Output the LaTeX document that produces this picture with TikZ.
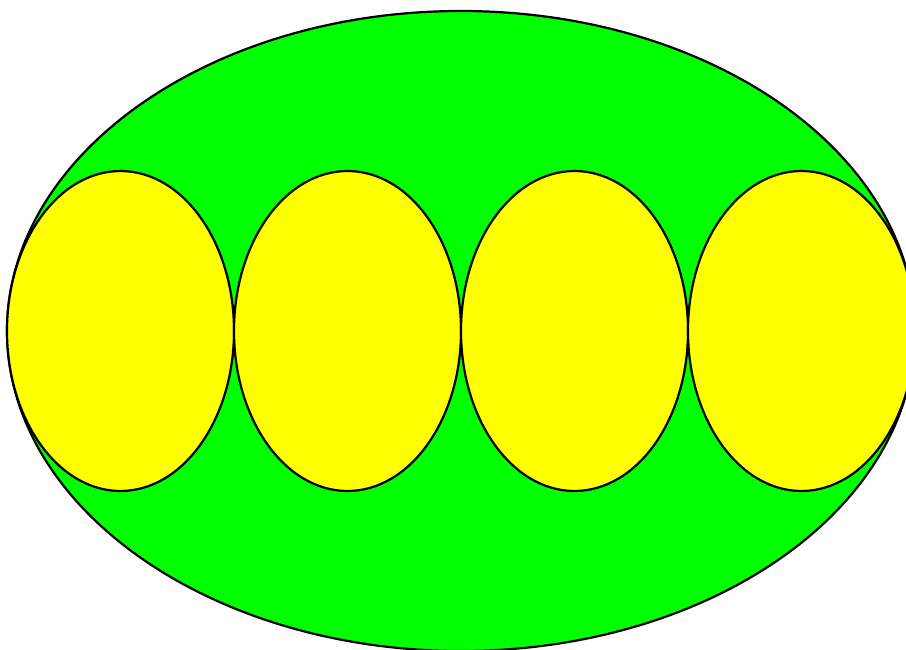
\documentclass[tikz,border=0pt]{standalone}
\definecolor{bigG}{RGB}{0,255,0}
\definecolor{smallY}{RGB}{255,255,0}
\begin{document}
\begin{tikzpicture}[x=1pt,y=-1pt,
  outline/.style={draw=black,line width=2.2pt},
  bigshape/.style={outline,fill=bigG},
  smallshape/.style={outline,fill=smallY}]
\useasboundingbox (0,0) rectangle (906,650);
\begin{scope}
\clip (0,0) rectangle (906,650);
\draw[bigshape] (461,331) ellipse [x radius=454, y radius=320];
\foreach \cx in {120.5,347.5,574.5,801.5}
  \draw[smallshape] (\cx,331) ellipse [x radius=113.5, y radius=160];
\end{scope}
\end{tikzpicture}
\end{document}
